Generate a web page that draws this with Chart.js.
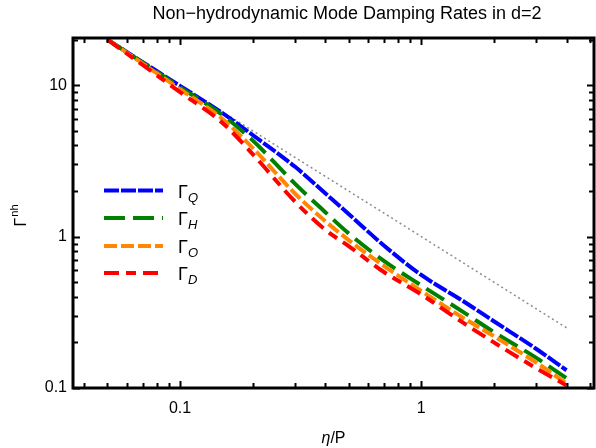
<!DOCTYPE html>
<html>
<head>
<meta charset="utf-8">
<script src="https://cdn.jsdelivr.net/npm/chart.js@4.4.1/dist/chart.umd.min.js"></script>
<style>
  html, body { margin: 0; padding: 0; background: #fff; }
  #wrap { width: 596px; height: 448px; }
</style>
</head>
<body>
<div id="wrap"><canvas id="chart" width="596" height="448"></canvas></div>
<script>
const etaOverP = [0.05, 0.07, 0.1, 0.15, 0.2, 0.3, 0.4, 0.5, 0.7, 1, 1.5, 2, 3, 4];

// damping rates of the non-hydrodynamic modes
const gammaQ = [20, 14.2, 9.9, 6.54, 4.69, 2.89, 1.93, 1.41, 0.873, 0.558, 0.373, 0.276, 0.181, 0.131];
const gammaH = [20, 14.1, 9.7, 6.35, 4.32, 2.23, 1.45, 1.05, 0.691, 0.476, 0.316, 0.234, 0.158, 0.116];
const gammaO = [20, 13.9, 9.4, 5.98, 3.85, 1.92, 1.265, 0.948, 0.64, 0.438, 0.289, 0.22, 0.147, 0.107];
const gammaD = [20, 13.6, 9.0, 5.63, 3.51, 1.70, 1.11, 0.866, 0.584, 0.415, 0.268, 0.2, 0.135, 0.104];

// gray dotted reference line
const guide = [20, 14.3, 10, 6.67, 5, 3.33, 2.5, 2, 1.43, 1, 0.667, 0.5, 0.333, 0.25];

const modeNames = ['Q', 'H', 'O', 'D'];

// tick values
const xMajorTicks = [0.1, 1];
const xMinorTicks = [0.04, 0.05, 0.06, 0.07, 0.08, 0.09, 0.2, 0.3, 0.4, 0.5, 0.6, 0.7, 0.8, 0.9, 2, 3, 4, 5];
const yMajorTicks = [0.1, 1, 10];
const yMinorTicks = [0.2, 0.3, 0.4, 0.5, 0.6, 0.7, 0.8, 0.9, 2, 3, 4, 5, 6, 7, 8, 9, 20];

const titleText = 'Non−hydrodynamic Mode Damping Rates in d=2';
const FONT = '"Liberation Sans", Arial, sans-serif';

function toPoints(ys) {
    return etaOverP.map((x, i) => ({ x: x, y: ys[i] }));
}

function modeDataset(name, ys, color, dash, order) {
    return {
        label: 'Γ' + name,
        sub: name,
        data: toPoints(ys),
        borderColor: color,
        backgroundColor: color,
        borderWidth: 4,
        borderDash: dash,
        pointRadius: 0,
        cubicInterpolationMode: 'monotone',
        order: order
    };
}

// title, frame, inward ticks, legend and axis titles
const decorations = {
    id: 'decorations',
    afterDraw(chart) {
        const ctx = chart.ctx;
        const a = chart.chartArea;
        const xs = chart.scales.x;
        const ys = chart.scales.y;
        ctx.save();

        // title
        ctx.fillStyle = '#000';
        ctx.font = '18px ' + FONT;
        ctx.textAlign = 'center';
        ctx.textBaseline = 'middle';
        ctx.fillText(titleText, 347, 14);

        // ticks on all four sides, pointing inward
        ctx.strokeStyle = '#000';
        ctx.lineWidth = 2;
        const drawX = (vals, len) => vals.forEach(v => {
            const px = Math.round(xs.getPixelForValue(v)) + 0.5;
            ctx.beginPath();
            ctx.moveTo(px, a.bottom); ctx.lineTo(px, a.bottom - len);
            ctx.moveTo(px, a.top); ctx.lineTo(px, a.top + len);
            ctx.stroke();
        });
        const drawY = (vals, len) => vals.forEach(v => {
            const py = Math.round(ys.getPixelForValue(v)) + 0.5;
            ctx.beginPath();
            ctx.moveTo(a.left, py); ctx.lineTo(a.left + len, py);
            ctx.moveTo(a.right, py); ctx.lineTo(a.right - len, py);
            ctx.stroke();
        });
        drawX(xMinorTicks, 5); drawX(xMajorTicks, 7);
        drawY(yMinorTicks, 5); drawY(yMajorTicks, 7);

        // frame
        ctx.lineWidth = 3;
        ctx.strokeRect(a.left, a.top, a.right - a.left, a.bottom - a.top);

        // legend
        const lx = a.left + 31;
        const rows = [190.5, 218, 246, 273];
        chart.data.datasets.filter(d => d.sub).forEach((d, i) => {
            const y = rows[i];
            ctx.strokeStyle = d.borderColor;
            ctx.lineWidth = 4;
            ctx.setLineDash(d.borderDash);
            ctx.beginPath();
            ctx.moveTo(lx, y); ctx.lineTo(lx + 59, y);
            ctx.stroke();
            ctx.setLineDash([]);
            ctx.fillStyle = '#000';
            ctx.textBaseline = 'alphabetic';
            ctx.textAlign = 'left';
            ctx.font = '18px ' + FONT;
            ctx.fillText('Γ', lx + 74, y + 7);
            const w = ctx.measureText('Γ').width;
            ctx.font = 'italic 13px ' + FONT;
            ctx.fillText(d.sub, lx + 74 + w, y + 11);
        });

        // y axis title
        ctx.fillStyle = '#000';
        ctx.translate(26, 216);
        ctx.rotate(-Math.PI / 2);
        ctx.textAlign = 'left';
        ctx.textBaseline = 'alphabetic';
        ctx.font = '16px ' + FONT;
        const gw = ctx.measureText('Γ').width;
        ctx.font = '11px ' + FONT;
        const sw = ctx.measureText('nh').width;
        ctx.font = '16px ' + FONT;
        ctx.fillText('Γ', -(gw + sw) / 2, 0);
        ctx.font = '11px ' + FONT;
        ctx.fillText('nh', -(gw + sw) / 2 + gw + 1, -8);
        ctx.setTransform(1, 0, 0, 1, 0, 0);

        // x axis title
        ctx.font = 'italic 16px ' + FONT;
        const ew = ctx.measureText('η').width;
        ctx.font = '16px ' + FONT;
        const pw = ctx.measureText('/P').width;
        const cx = (a.left + a.right) / 2 - (ew + pw) / 2;
        ctx.font = 'italic 16px ' + FONT;
        ctx.fillText('η', cx, 443);
        ctx.font = '16px ' + FONT;
        ctx.fillText('/P', cx + ew, 443);

        ctx.restore();
    }
};

const chart = new Chart(document.getElementById('chart'), {
    type: 'line',
    data: {
        datasets: [
            modeDataset(modeNames[0], gammaQ, 'rgb(0, 0, 255)', [15, 2], 4),
            modeDataset(modeNames[1], gammaH, 'rgb(0, 128, 0)', [21, 8], 3),
            modeDataset(modeNames[2], gammaO, 'rgb(255, 136, 0)', [13, 4], 2),
            modeDataset(modeNames[3], gammaD, 'rgb(255, 0, 0)', [15, 7, 10, 7], 1),
            {
                label: 'guide',
                data: toPoints(guide),
                borderColor: 'rgb(140, 140, 140)',
                borderWidth: 1.5,
                borderDash: [2, 3],
                pointRadius: 0,
                order: 5
            }
        ]
    },
    options: {
        responsive: false,
        animation: false,
        devicePixelRatio: 1,
        layout: { padding: { left: 0, right: 2, top: 38, bottom: 0 } },
        plugins: {
            legend: { display: false },
            tooltip: { enabled: false },
            title: { display: false }
        },
        scales: {
            x: {
                type: 'logarithmic',
                min: 0.036,
                max: 5.2,
                grid: { display: false, drawTicks: false },
                border: { display: false },
                afterBuildTicks: s => { s.ticks = xMajorTicks.map(v => ({ value: v })); },
                afterFit: s => { s.height = 60; },
                ticks: {
                    color: '#000',
                    padding: 11,
                    maxRotation: 0,
                    font: { family: FONT, size: 16 },
                    callback: v => String(v)
                }
            },
            y: {
                type: 'logarithmic',
                min: 0.1,
                max: 20.5,
                grid: { display: false, drawTicks: false },
                border: { display: false },
                afterBuildTicks: s => { s.ticks = yMajorTicks.map(v => ({ value: v })); },
                afterFit: s => { s.width = 73; },
                ticks: {
                    color: '#000',
                    padding: 6,
                    font: { family: FONT, size: 16 },
                    callback: v => String(v)
                }
            }
        }
    },
    plugins: [decorations]
});
</script>
</body>
</html>
